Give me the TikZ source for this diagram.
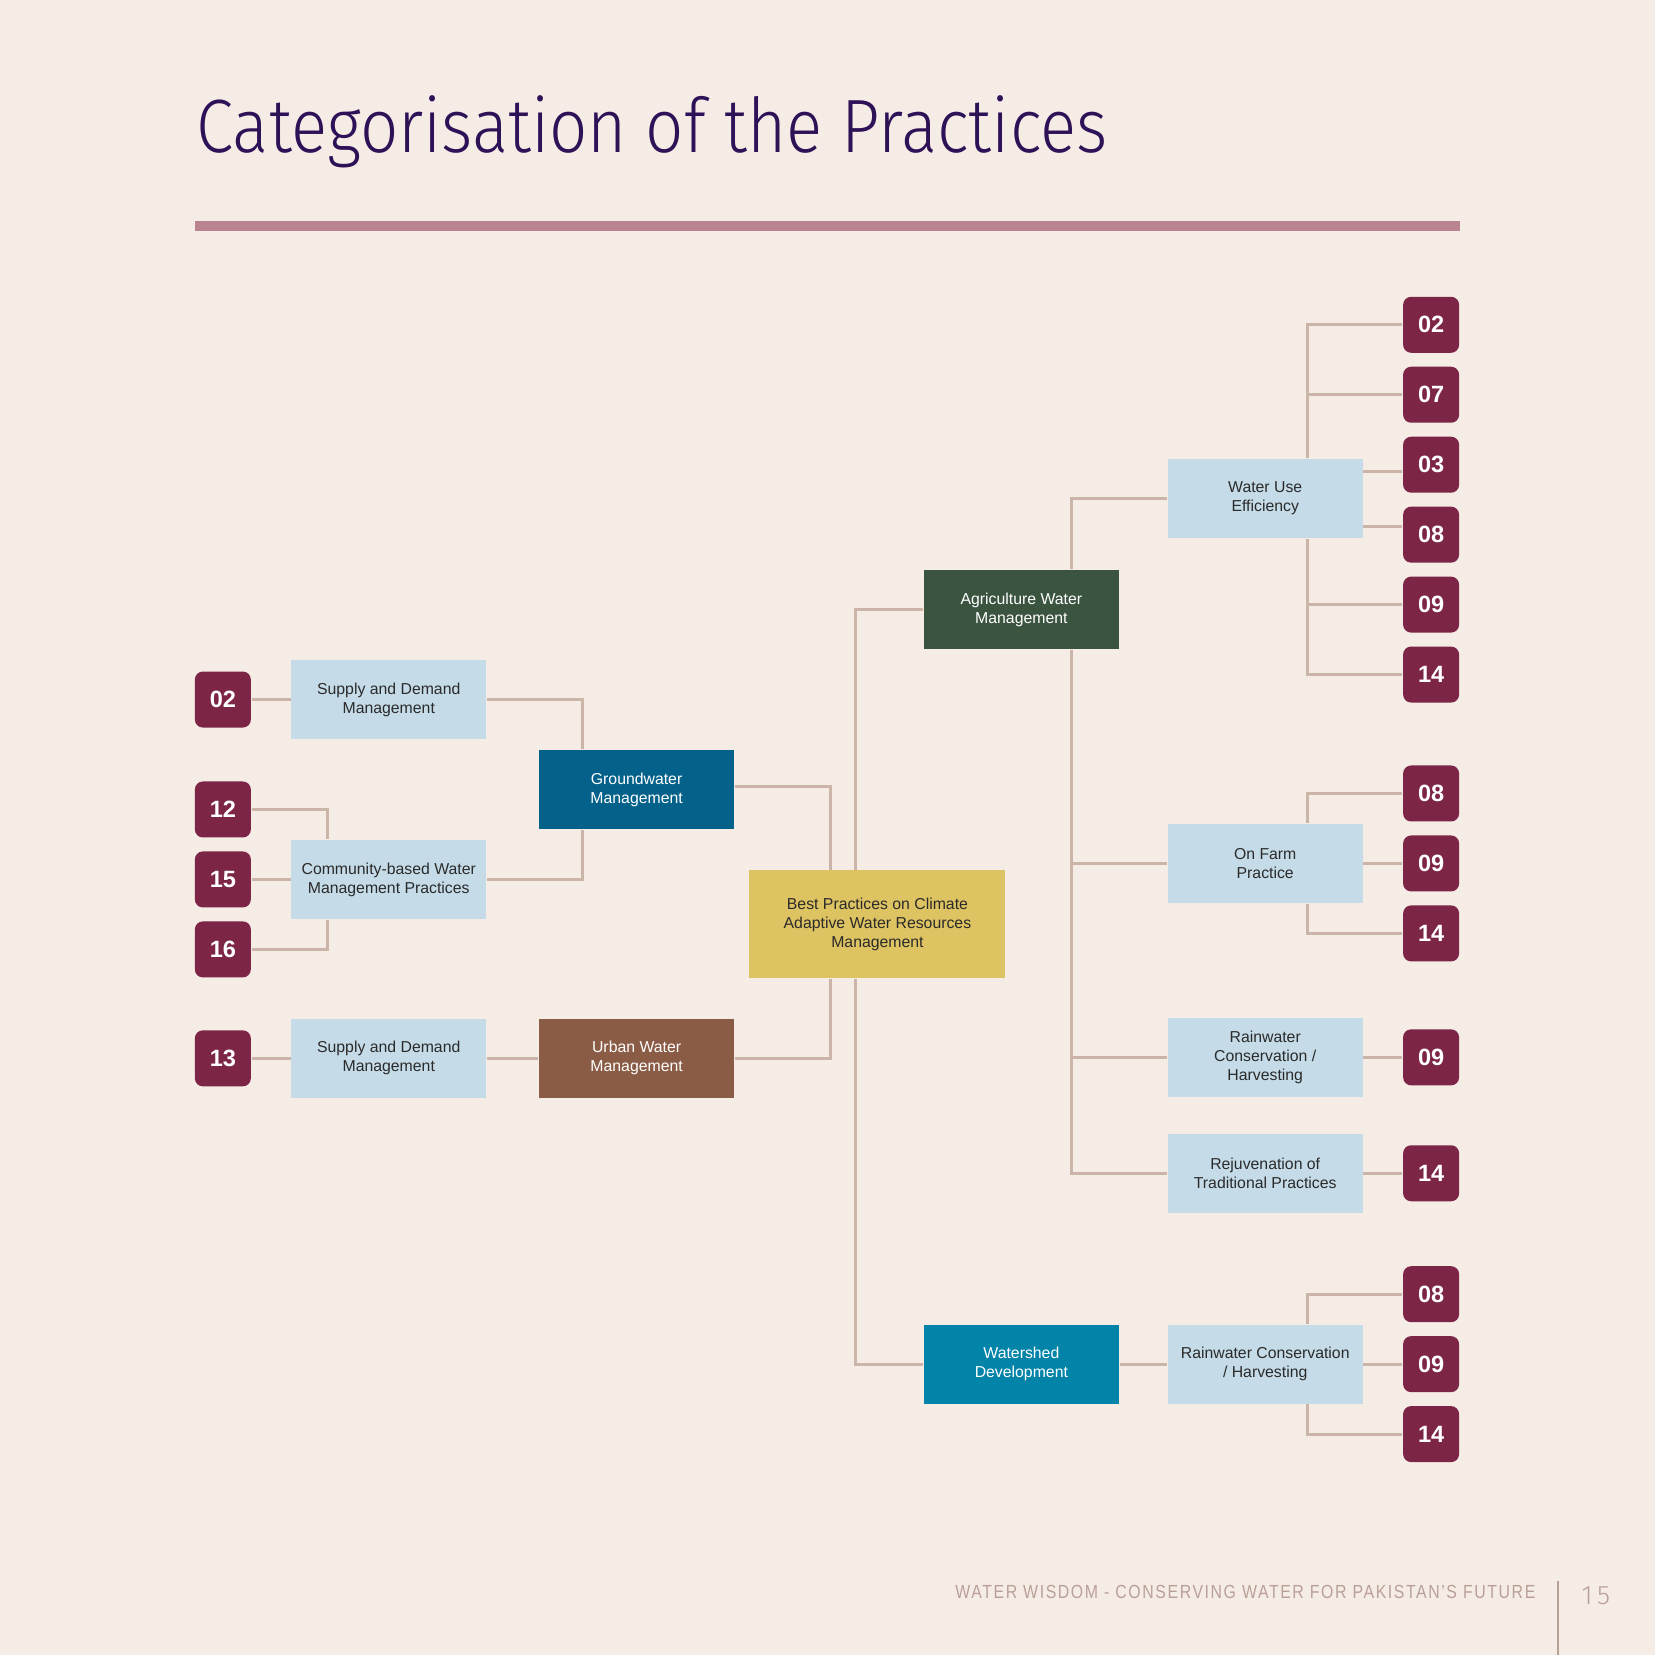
\documentclass[tikz,border=0pt]{standalone}
\usepackage{graphicx}
\usepackage{fontspec}
\setmainfont{Liberation Sans}
\newfontfamily\lightfont{Fira Sans Light}
\definecolor{PageBg}{HTML}{F6ECE6}
\definecolor{TitlePurple}{HTML}{2E1257}
\definecolor{RuleMauve}{HTML}{B98390}
\definecolor{BadgeRed}{HTML}{7C2546}
\definecolor{PaleBlue}{HTML}{C5DCE8}
\definecolor{GroundBlue}{HTML}{03618A}
\definecolor{AgriGreen}{HTML}{3B5440}
\definecolor{UrbanBrown}{HTML}{8A5B45}
\definecolor{BestGold}{HTML}{DEC362}
\definecolor{ShedBlue}{HTML}{0283A8}
\definecolor{LinkTan}{HTML}{CBB5A9}
\definecolor{FootGrey}{HTML}{B9A097}
\definecolor{InkDark}{HTML}{2A2A2A}

\begin{document}
\begin{tikzpicture}[x=0.01cm, y=-0.01cm, font=\fontsize{4.5}{5.4}\selectfont,
	num/.style={rounded corners=0.08cm, fill=BadgeRed, text=white, minimum size=0.56cm, inner sep=0pt, font=\fontsize{6.7}{8}\selectfont\bfseries},
	sub/.style={fill=PaleBlue, text=InkDark, minimum width=1.95cm, minimum height=0.79cm, inner sep=0pt, align=center},
	cat/.style={sub, text=white},
	ln/.style={line width=0.9pt, LinkTan}]
	\fill[PageBg] (0,0) rectangle (1656,1656);
	\node[anchor=base west, inner sep=0pt, text=TitlePurple, font=\lightfont\fontsize{21.5}{24}\selectfont] (title) at (196,153) {\scalebox{0.89}[1]{Categorisation of the Practices}};
	\fill[RuleMauve] (195,221) rectangle (1461,231);

	\node[sub, fill=BestGold, text=InkDark, minimum width=2.56cm, minimum height=1.08cm] (best) at (878,925) {Best Practices on Climate\\Adaptive Water Resources\\Management};
	\node[cat, fill=GroundBlue] (gw) at (637,790) {Groundwater\\Management};
	\node[cat, fill=UrbanBrown] (urb) at (637,1059) {Urban Water\\Management};
	\node[cat, fill=AgriGreen] (agri) at (1022,610) {Agriculture Water\\Management};
	\node[cat, fill=ShedBlue] (shed) at (1022,1365) {Watershed\\Development};

	\node[sub] (sd1) at (389,700) {Supply and Demand\\Management};
	\node[sub] (cbw) at (389,880) {Community-based Water\\Management Practices};
	\node[sub] (sd2) at (389,1059) {Supply and Demand\\Management};
	\node[num] (l02) at (223,700) {02};
	\node[num] (l12) at (223,810) {12};
	\node[num] (l15) at (223,880) {15};
	\node[num] (l16) at (223,950) {16};
	\node[num] (l13) at (223,1059) {13};

	\node[sub] (wue) at (1266,499) {Water Use\\Efficiency};
	\node[sub] (farm) at (1266,864) {On Farm\\Practice};
	\node[sub] (rwa) at (1266,1058) {Rainwater\\Conservation /\\Harvesting};
	\node[sub] (rej) at (1266,1174) {Rejuvenation of\\Traditional Practices};
	\node[sub] (rwb) at (1266,1365) {Rainwater Conservation\\/ Harvesting};
	\node[num] (w02) at (1432,325) {02};
	\node[num] (w07) at (1432,395) {07};
	\node[num] (w03) at (1432,465) {03};
	\node[num] (w08) at (1432,535) {08};
	\node[num] (w09) at (1432,605) {09};
	\node[num] (w14) at (1432,675) {14};
	\node[num] (f08) at (1432,794) {08};
	\node[num] (f09) at (1432,864) {09};
	\node[num] (f14) at (1432,934) {14};
	\node[num] (a09) at (1432,1058) {09};
	\node[num] (r14) at (1432,1174) {14};
	\node[num] (b08) at (1432,1295) {08};
	\node[num] (b09) at (1432,1365) {09};
	\node[num] (b14) at (1432,1435) {14};

	\draw[ln] (l02)--(sd1); \draw[ln] (l15)--(cbw); \draw[ln] (l13)--(sd2); \draw[ln] (sd2)--(urb);
	\draw[ln] (l12.east) -| ([xshift=-0.61cm]cbw.north); \draw[ln] (l16.east) -| ([xshift=-0.61cm]cbw.south);
	\draw[ln] (sd1.east) -| ([xshift=-0.54cm]gw.north); \draw[ln] (cbw.east) -| ([xshift=-0.54cm]gw.south);
	\draw[ln] ([yshift=0.03cm]gw.east) -| ([xshift=-0.47cm]best.north); \draw[ln] (urb.east) -| ([xshift=-0.47cm]best.south);
	\draw[ln] (agri.west) -| ([xshift=-0.22cm]best.north); \draw[ln] ([xshift=-0.22cm]best.south) |- (shed.west);
	\draw[ln] (shed)--(rwb);
	\draw[ln] ([xshift=0.5cm]agri.north) |- (wue.west);
	\draw[ln] ([xshift=0.5cm]agri.south) |- (farm.west); \draw[ln] ([xshift=0.5cm]agri.south) |- (rwa.west); \draw[ln] ([xshift=0.5cm]agri.south) |- (rej.west);
	\draw[ln] ([xshift=0.42cm]wue.north) |- (w02.west); \draw[ln] ([xshift=0.42cm]wue.north) |- (w07.west);
	\draw[ln] ([xshift=0.42cm]wue.south) |- (w09.west); \draw[ln] ([xshift=0.42cm]wue.south) |- (w14.west);
	\draw[ln] ([yshift=-0.07cm]w03.west) -- ([yshift=-0.07cm]w03.west -| wue.east); \draw[ln] ([yshift=0.08cm]w08.west) -- ([yshift=0.08cm]w08.west -| wue.east);
	\draw[ln] ([xshift=0.42cm]farm.north) |- (f08.west); \draw[ln] (farm)--(f09); \draw[ln] ([xshift=0.42cm]farm.south) |- (f14.west);
	\draw[ln] (rwa)--(a09); \draw[ln] (rej)--(r14);
	\draw[ln] ([xshift=0.42cm]rwb.north) |- (b08.west); \draw[ln] (rwb)--(b09); \draw[ln] ([xshift=0.42cm]rwb.south) |- (b14.west);

	\node[anchor=base east, inner sep=0pt, text=FootGrey, font=\fontsize{5.4}{6}\selectfont\addfontfeatures{LetterSpace=10}] (foot) at (1537,1599) {\scalebox{0.836}[1]{WATER WISDOM - CONSERVING WATER FOR PAKISTAN’S FUTURE}};
	\coordinate (bartop) at (1559,1582); \coordinate (barbot) at (1559,1656);
	\draw[line width=0.6pt, FootGrey] (bartop)--(barbot);
	\node[anchor=base west, inner sep=0pt, text=FootGrey, font=\lightfont\fontsize{7.6}{8}\selectfont] (page) at (1582,1606) {1\,5};
\end{tikzpicture}
\end{document}
